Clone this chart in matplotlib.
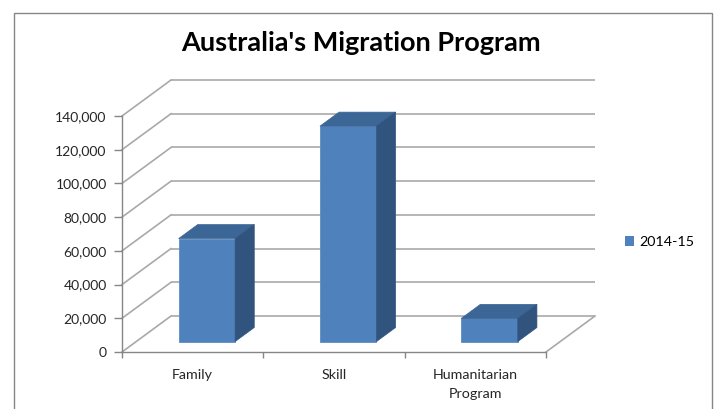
import numpy as np
import matplotlib
matplotlib.use('Agg')
import matplotlib.pyplot as plt
import matplotlib.patches as patches

# data
categories = ['Family', 'Skill', 'Humanitarian\nProgram']
values_2014_15 = [61085, 127774, 13750]
series_name = '2014-15'
ytick_values = [0, 20000, 40000, 60000, 80000, 100000, 120000, 140000]
title = "Australia's Migration Program"

plt.rcParams['font.family'] = ['Lato', 'DejaVu Sans']

W, H = 717, 409
fig = plt.figure(figsize=(W / 100, H / 100), dpi=100, facecolor='white')

# front plane of the 3d box (pixels -> figure fraction)
left_px, right_px, zero_px, top_px = 122, 546, 352, 116
ax = fig.add_axes([left_px / W, (H - zero_px) / H,
                   (right_px - left_px) / W, (zero_px - top_px) / H])
ax.set_xlim(0.5, 3.5)
ax.set_ylim(0, 140000)
ax.patch.set_visible(False)

# oblique depth vector, in data units
px_per_cat = (right_px - left_px) / 3.0
px_per_val = (zero_px - top_px) / 140000.0
ddx = 49 / px_per_cat
ddy = 36 / px_per_val

grid_col = '#A9A9A9'
axis_col = '#868686'

# back wall gridlines + side wall diagonals
for v in ytick_values:
    ax.plot([0.5 + ddx, 3.5 + ddx], [v + ddy, v + ddy], color=grid_col, lw=1.2,
            clip_on=False, zorder=1, solid_capstyle='butt')
    ax.plot([0.5, 0.5 + ddx], [v, v + ddy], color=grid_col, lw=1.2,
            clip_on=False, zorder=1)
# floor right edge
ax.plot([3.5, 3.5 + ddx], [0, ddy], color=grid_col, lw=1.2, clip_on=False, zorder=1)

# bars
f0 = 0.29      # depth where bar front sits
bd = 0.39      # bar depth
bw = 0.40      # bar width
x = np.arange(1, len(categories) + 1)
xf = x + f0 * ddx
b0 = f0 * ddy
ax.bar(xf, values_2014_15, width=bw, bottom=b0, color='#4F81BD',
       edgecolor='#5C8CC4', linewidth=0.6, zorder=3, clip_on=False)
for xc, v in zip(xf, values_2014_15):
    xl, xr = xc - bw / 2, xc + bw / 2
    top = b0 + v
    top_face = [(xl, top), (xr, top), (xr + bd * ddx, top + bd * ddy), (xl + bd * ddx, top + bd * ddy)]
    side_face = [(xr, b0), (xr, top), (xr + bd * ddx, top + bd * ddy), (xr + bd * ddx, b0 + bd * ddy)]
    ax.add_patch(patches.Polygon(top_face, closed=True, facecolor='#3C6696',
                                 edgecolor='#3C6696', lw=0.5, zorder=3, clip_on=False))
    ax.add_patch(patches.Polygon(side_face, closed=True, facecolor='#31547E',
                                 edgecolor='#31547E', lw=0.5, zorder=3, clip_on=False))

# axes
for s in ['top', 'right']:
    ax.spines[s].set_visible(False)
for s in ['left', 'bottom']:
    ax.spines[s].set_color(axis_col)
    ax.spines[s].set_linewidth(1.0)
    ax.spines[s].set_zorder(2)

ax.set_yticks(ytick_values)
ax.set_yticklabels(['{:,}'.format(v) for v in ytick_values])
ax.tick_params(axis='y', direction='out', length=6, width=1, color=axis_col,
               labelsize=10, pad=5, labelcolor='#262626')

ax.set_xticks(x)
ax.set_xticklabels(categories, linespacing=1.75)
ax.set_xticks([0.5, 1.5, 2.5, 3.5], minor=True)
ax.tick_params(axis='x', which='major', length=0, labelsize=10.3, pad=12, labelcolor='#262626')
ax.tick_params(axis='x', which='minor', direction='out', length=4, width=1, color=axis_col)
for lab in ax.get_xticklabels():
    lab.set_verticalalignment('top')

# legend
fig.legend(handles=[patches.Patch(facecolor='#4F81BD', label=series_name)],
           loc='center left', bbox_to_anchor=(625 / W, 1 - 242 / H),
           frameon=False, fontsize=10.3, handlelength=0.65, handleheight=0.65,
           handletextpad=0.35, borderpad=0, borderaxespad=0)

# title
fig.text(361 / W, 1 - 43 / H, title, ha='center', va='center',
         fontsize=19.5, fontweight='bold', color='black')

# chart border (bottom edge cut off in the reference)
fig.add_artist(patches.Rectangle((13.5 / W, -0.05), (711.5 - 13.5) / W, 1.05 - 12.5 / H,
                                 transform=fig.transFigure, fill=False,
                                 edgecolor=axis_col, lw=1.0))

fig.savefig('out.png', dpi=100, facecolor='white')
